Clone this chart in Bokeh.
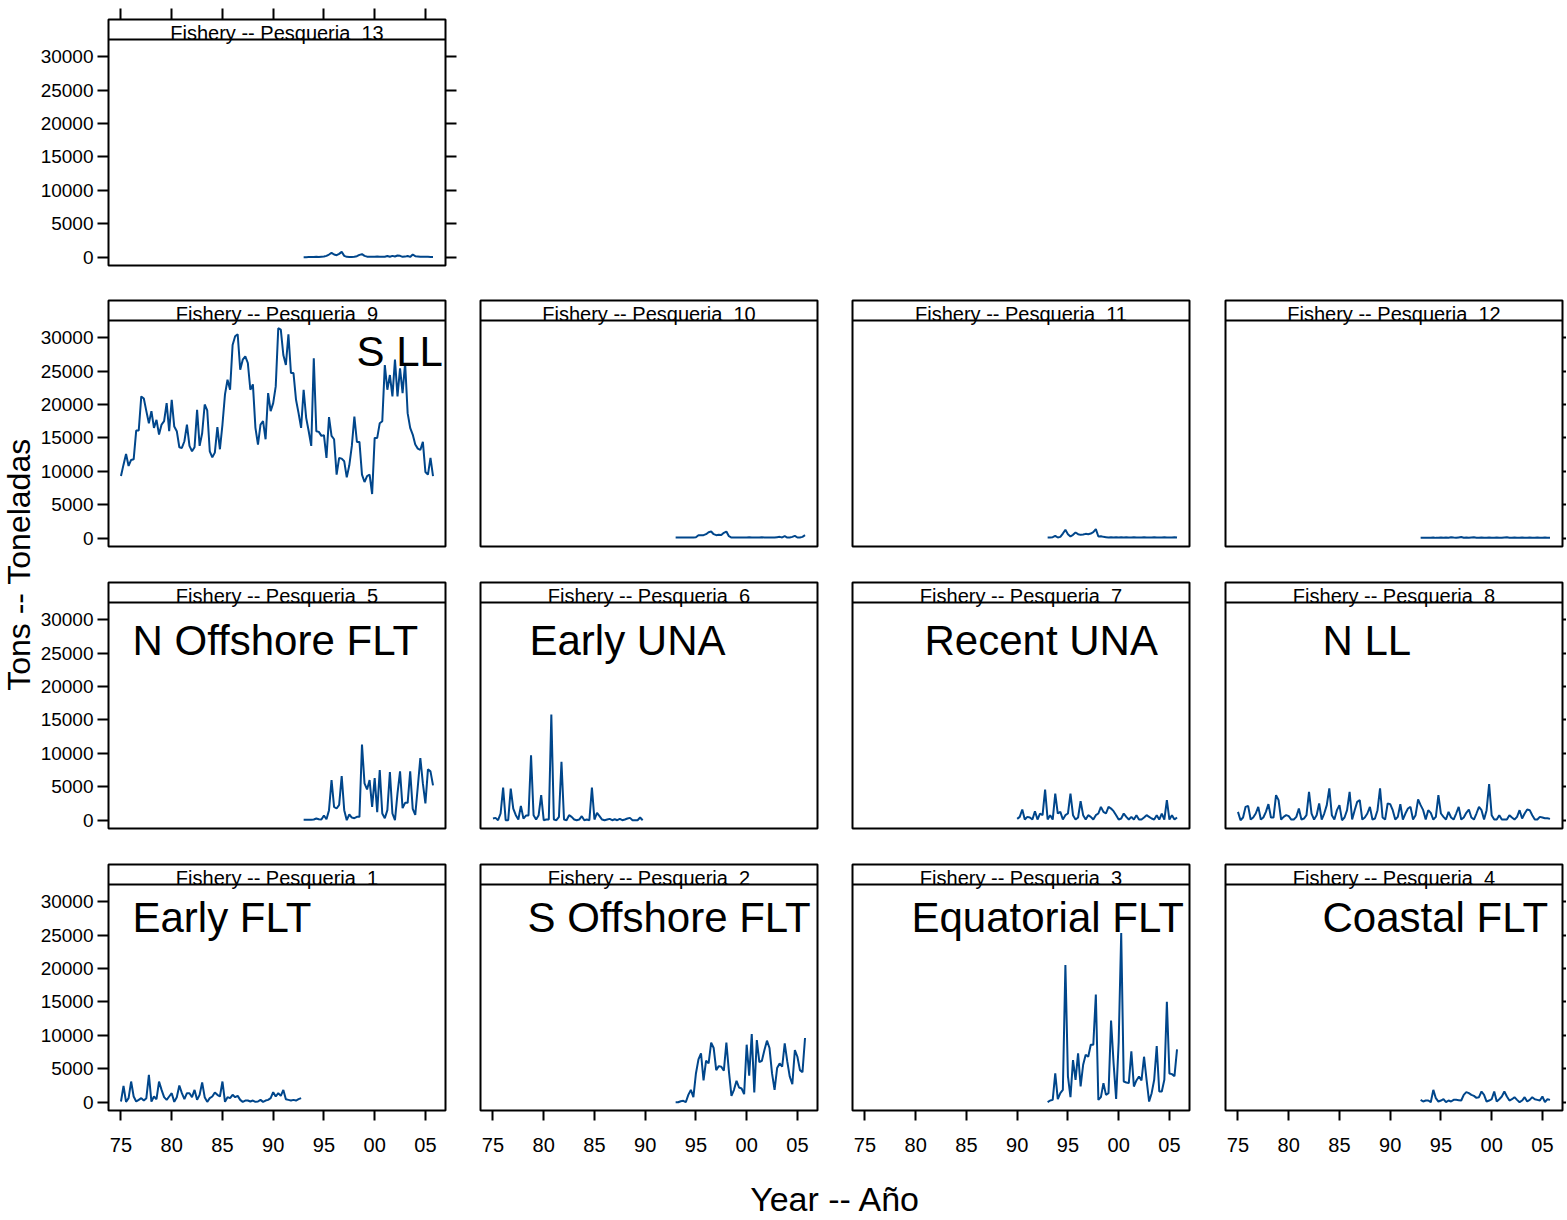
import math
from bokeh.plotting import figure
from bokeh.layouts import column, row
from bokeh.models import Range1d, FixedTicker, Span, Label, LinearAxis
from bokeh.embed import file_html
from bokeh.resources import INLINE

# ---------------- data ----------------
year_ticks = [1975, 1980, 1985, 1990, 1995, 2000, 2005]
year_labels = ["75", "80", "85", "90", "95", "00", "05"]
ton_ticks = [0, 5000, 10000, 15000, 20000, 25000, 30000]

x_title = "Year -- Año"
y_title = "Tons -- Toneladas"

# quarterly catches (tons); each series starts at the given year, one value per quarter
start_p1 = 1975.0
catch_p1 = [100, 2440, 50, 600, 3090, 850, 100, 350, 600, 250,
            600, 4090, 100, 850, 450, 3090, 1840, 750, 350, 850,
            1350, 50, 750, 2490, 1350, 450, 1350, 1350, 750, 1840,
            350, 1100, 2940, 750, 50, 600, 850, 1450, 1100, 850,
            3090, 50, 750, 600, 1100, 750, 950, 350, 50, 250,
            250, 100, 250, 50, 100, 350, 50, 250, 350, 600,
            1500, 850, 1350, 950, 1840, 450, 350, 250, 350, 250,
            450, 600]

start_p2 = 1993.0
catch_p2 = [0, 0, 150, 200, 0, 1100, 1850, 750, 4300, 6400,
            7300, 3250, 6200, 5800, 8900, 8100, 4800, 5400, 5300, 4700,
            8900, 4600, 950, 1850, 3200, 2200, 2050, 1200, 8600, 3950,
            10200, 1450, 9300, 6000, 6200, 7800, 9200, 8100, 4300, 1850,
            5100, 5800, 5300, 8800, 6100, 3800, 2700, 7800, 6800, 4800,
            4500, 9600]

start_p3 = 1993.0
catch_p3 = [0, 250, 350, 4300, 450, 1350, 1850, 20500, 3850, 750,
            6300, 3350, 7300, 2350, 5600, 7100, 6800, 8600, 8600, 16100,
            350, 750, 2850, 1100, 1350, 12200, 5800, 500, 9000, 25300,
            3100, 2950, 2850, 7600, 2350, 3250, 3850, 3250, 6800, 3350,
            100, 1350, 3350, 8400, 1600, 1600, 3350, 15000, 4300, 4200,
            3900, 7900]

start_p4 = 1993.0
catch_p4 = [350, 100, 250, 250, 0, 1840, 600, 100, 250, 450,
            0, 250, 100, 350, 350, 300, 250, 1100, 1500, 1350,
            1100, 950, 650, 750, 1600, 1100, 100, 250, 450, 1600,
            100, 450, 850, 1600, 850, 250, 450, 750, 350, 0,
            250, 750, 100, 350, 750, 450, 350, 250, 850, 0,
            450, 350]

start_p5 = 1993.0
catch_p5 = [50, 50, 50, 80, 100, 250, 150, 100, 700, 150,
            1500, 6000, 2000, 1750, 2300, 6600, 1500, 0, 850, 400,
            300, 500, 500, 11300, 5500, 4600, 6000, 2000, 6300, 1200,
            7500, 1000, 300, 1500, 7200, 1000, 0, 4000, 7300, 1800,
            2600, 2600, 7300, 1700, 800, 5000, 9300, 5500, 2500, 7600,
            7300, 5200]

start_p6 = 1975.0
catch_p6 = [250, 350, 0, 1000, 4880, 0, 0, 4730, 1740, 750,
            100, 2140, 250, 700, 700, 9720, 750, 100, 750, 3740,
            0, 100, 100, 15800, 100, 0, 500, 8720, 100, 0,
            750, 500, 100, 0, 100, 600, 0, 100, 0, 4880,
            100, 1100, 600, 100, 0, 100, 200, 0, 150, 0,
            200, 0, 100, 250, 350, 0, 0, 0, 400, 0]

start_p7 = 1990.0
catch_p7 = [200, 500, 1600, 100, 500, 400, 100, 1350, 100, 1000,
            750, 4580, 100, 750, 100, 3990, 1000, 1250, 100, 750,
            1000, 3990, 750, 100, 400, 2840, 750, 100, 750, 500,
            100, 750, 1000, 1990, 1250, 1000, 1990, 1740, 1350, 750,
            100, 250, 1000, 500, 100, 500, 100, 750, 100, 100,
            400, 750, 500, 250, 100, 750, 100, 1000, 100, 2990,
            100, 750, 100, 400]

start_p8 = 1975.0
catch_p8 = [1250, 0, 400, 2000, 2150, 100, 400, 1000, 2000, 100,
            400, 1250, 2400, 400, 400, 3750, 3000, 100, 500, 750,
            600, 100, 100, 500, 1750, 100, 250, 750, 4250, 1000,
            100, 750, 2500, 100, 1000, 2250, 4750, 750, 100, 1500,
            2250, 0, 400, 1500, 4250, 100, 1500, 2750, 3000, 100,
            400, 1000, 2000, 100, 250, 1500, 4750, 400, 100, 2500,
            2400, 1500, 100, 500, 2400, 100, 1000, 1750, 2000, 100,
            750, 3100, 2250, 1500, 100, 1500, 1100, 100, 500, 3750,
            1000, 500, 100, 1250, 400, 100, 1000, 2000, 100, 400,
            1100, 1600, 400, 100, 1000, 2000, 1500, 100, 1500, 5400,
            750, 100, 100, 750, 100, 100, 100, 750, 400, 100,
            500, 1500, 250, 1000, 1600, 1500, 750, 100, 100, 500,
            400, 300, 300, 200]

start_p9 = 1975.0
catch_p9 = [9300, 11000, 12600, 10800, 11700, 11800, 16100, 16100, 21200, 20900,
            19000, 17200, 19000, 16500, 17700, 15500, 17000, 17500, 20200, 16000,
            20700, 16700, 16000, 13600, 13500, 14500, 17000, 13800, 13000, 13600,
            19200, 13800, 15700, 20000, 19100, 13000, 12100, 12800, 16600, 13300,
            17000, 21500, 23700, 22200, 28900, 30200, 30500, 25200, 26700, 27200,
            26200, 22200, 23000, 16500, 14000, 17000, 17500, 14800, 21700, 19000,
            20200, 22700, 31400, 31200, 27400, 25900, 30500, 24700, 24700, 20700,
            18700, 16500, 22200, 18000, 16000, 13800, 26900, 16000, 15900, 15300,
            15400, 12000, 18100, 15300, 14800, 9500, 12000, 11900, 11500, 9100,
            10900, 13800, 18200, 14400, 14400, 9500, 8400, 9300, 9500, 6600,
            15000, 15000, 17200, 17500, 25900, 22200, 24400, 21200, 26700, 21200,
            25400, 21700, 26200, 18700, 16500, 15500, 14000, 13400, 13200, 14400,
            9900, 9500, 12000, 9300]

start_p10 = 1993.0
catch_p10 = [100, 100, 100, 100, 100, 100, 100, 100, 150, 450,
             450, 450, 600, 900, 1000, 600, 450, 500, 480, 800,
             1000, 300, 100, 120, 100, 100, 120, 100, 100, 150,
             100, 120, 100, 100, 150, 100, 100, 120, 100, 100,
             150, 200, 120, 300, 100, 120, 200, 350, 100, 120,
             200, 450]

start_p11 = 1993.0
catch_p11 = [100, 100, 150, 350, 100, 200, 700, 1250, 600, 250,
             500, 850, 600, 500, 550, 650, 600, 700, 900, 1350,
             250, 300, 200, 150, 100, 150, 100, 150, 100, 150,
             100, 150, 120, 100, 150, 100, 120, 100, 150, 100,
             120, 100, 150, 100, 120, 100, 150, 100, 120, 100,
             150, 120]

start_p12 = 1993.0
catch_p12 = [50, 60, 50, 80, 60, 100, 50, 80, 120, 60,
             100, 80, 150, 100, 60, 120, 180, 80, 100, 60,
             120, 150, 80, 60, 100, 80, 60, 120, 80, 60,
             100, 80, 60, 120, 150, 80, 60, 100, 80, 60,
             120, 80, 60, 100, 80, 60, 120, 80, 60, 100,
             80, 60]

start_p13 = 1993.0
catch_p13 = [0, 0, 20, 30, 20, 50, 40, 80, 100, 200,
             400, 650, 400, 300, 500, 800, 200, 50, 30, 40,
             60, 150, 350, 450, 200, 80, 60, 80, 50, 90,
             60, 50, 70, 180, 60, 200, 100, 250, 200, 50,
             90, 180, 40, 400, 150, 120, 60, 50, 70, 60,
             40, 40]

panel_names = {1: "Early FLT", 2: "S Offshore FLT", 3: "Equatorial FLT", 4: "Coastal FLT",
               5: "N Offshore FLT", 6: "Early UNA", 7: "Recent UNA", 8: "N LL", 9: "S LL",
               10: "", 11: "", 12: "", 13: ""}

# ---------------- styling / layout constants ----------------
LINE_COLOR = "#00468B"
FONT = "Liberation Sans"
X0, X1 = 1973.77, 2006.98
Y0, Y1 = -1241.0, 35548.0
FW, FH = 337, 246
STRIP_Y = 32560.0
PXX = FW / (X1 - X0)       # px per year
UPY = (Y1 - Y0) / FH       # tons per px

YT_W = 36                  # width of the strip that holds the y title
PAGE_H = 1218
COL_BL = [72, 5, 5, 5]
COL_BR = [30, 30, 31, 4]
ROW_BT = [19, 18, 18, 18]
ROW_BB = [17, 18, 18, 60]
XT_H = 48

# panel label anchor (left x in px from frame left, text middle in px from frame bottom)
label_pos = {1: (24, 193), 2: (47, 193), 3: (59, 193), 4: (97, 193),
             5: (24, 188), 6: (49, 188), 7: (72, 188), 8: (97, 188), 9: (248, 195)}


def yaxis(p, loc, labels, tick_out=11):
    ax = LinearAxis(ticker=FixedTicker(ticks=ton_ticks))
    ax.axis_line_color = None
    ax.major_tick_in = 0
    ax.major_tick_out = tick_out
    ax.minor_tick_in = 0
    ax.minor_tick_out = 0
    ax.major_tick_line_width = 2
    ax.major_tick_line_color = "black"
    if labels:
        ax.major_label_text_font_size = "19px"
        ax.major_label_text_font = FONT
        ax.major_label_text_color = "black"
        ax.major_label_standoff = 4
    else:
        ax.major_label_text_font_size = "1px"
        ax.major_label_text_color = None
        ax.major_label_standoff = 0
    p.add_layout(ax, loc)


def xaxis(p, loc, labels):
    ax = LinearAxis(ticker=FixedTicker(ticks=year_ticks))
    ax.axis_line_color = None
    ax.major_tick_in = 0
    ax.major_tick_out = 10 if labels else 11
    ax.minor_tick_in = 0
    ax.minor_tick_out = 0
    ax.major_tick_line_width = 2
    ax.major_tick_line_color = "black"
    if labels:
        ax.major_label_overrides = {t: l for t, l in zip(year_ticks, year_labels)}
        ax.major_label_text_font_size = "20px"
        ax.major_label_text_font = FONT
        ax.major_label_text_color = "black"
        ax.major_label_standoff = 17
    else:
        ax.major_label_text_font_size = "1px"
        ax.major_label_text_color = None
        ax.major_label_standoff = 0
    p.add_layout(ax, loc)


def panel(num, start, vals, col, rw):
    p = figure(frame_width=FW, frame_height=FH,
               x_range=Range1d(X0, X1), y_range=Range1d(Y0, Y1),
               x_axis_location=None, y_axis_location=None,
               toolbar_location=None, output_backend="svg", title=None,
               min_border_left=COL_BL[col], min_border_right=COL_BR[col],
               min_border_top=ROW_BT[rw], min_border_bottom=ROW_BB[rw],
               background_fill_color="white", border_fill_color="white")
    p.grid.visible = False
    p.outline_line_color = "black"
    p.outline_line_width = 2
    xs = [start + 0.25 * i for i in range(len(vals))]
    p.line(xs, vals, line_color=LINE_COLOR, line_width=2)
    p.add_layout(Span(location=STRIP_Y, dimension="width", line_color="black", line_width=2))
    p.add_layout(Label(x=(X0 + X1) / 2, y=STRIP_Y + 6.5 * UPY,
                       text="Fishery -- Pesqueria \u00a0%d" % num,
                       text_align="center", text_baseline="middle",
                       text_font=FONT, text_font_size="20px", text_color="black"))
    name = panel_names[num]
    if name:
        dx, dy = label_pos[num]
        p.add_layout(Label(x=X0 + dx / PXX, y=Y0 + dy * UPY, text=name,
                           text_align="left", text_baseline="middle",
                           text_font=FONT, text_font_size="42px", text_color="black"))
    return p


def blank_fig(w, h):
    f = figure(width=w, height=h, x_range=Range1d(0, w), y_range=Range1d(0, h),
               x_axis_location=None, y_axis_location=None,
               toolbar_location=None, output_backend="svg", title=None,
               min_border_left=0, min_border_right=0, min_border_top=0, min_border_bottom=0,
               background_fill_color="white", border_fill_color="white")
    f.grid.visible = False
    f.outline_line_color = None
    return f


series = {1: (start_p1, catch_p1), 2: (start_p2, catch_p2), 3: (start_p3, catch_p3),
          4: (start_p4, catch_p4), 5: (start_p5, catch_p5), 6: (start_p6, catch_p6),
          7: (start_p7, catch_p7), 8: (start_p8, catch_p8), 9: (start_p9, catch_p9),
          10: (start_p10, catch_p10), 11: (start_p11, catch_p11), 12: (start_p12, catch_p12),
          13: (start_p13, catch_p13)}

grid = [[13], [9, 10, 11, 12], [5, 6, 7, 8], [1, 2, 3, 4]]
figs = {}
for rw, nums in enumerate(grid):
    for col, num in enumerate(nums):
        s, v = series[num]
        p = panel(num, s, v, col, rw)
        if col == 0:
            yaxis(p, "left", True)
        if col == len(nums) - 1:
            yaxis(p, "right", False, tick_out=11 if col < 3 else 4)
        if rw == 0:
            xaxis(p, "above", False)
        if rw == 3:
            xaxis(p, "below", True)
        figs[(rw, col)] = p

# y-axis title in its own narrow strip on the left
right_w = 1566 - YT_W
ytf = blank_fig(YT_W, PAGE_H)
ytf.add_layout(Label(x=18, y=PAGE_H - 564, text=y_title, angle=math.pi / 2,
                     text_align="center", text_baseline="middle",
                     text_font=FONT, text_font_size="32px", text_color="black"))

# x-axis title in its own strip at the bottom
xtf = blank_fig(right_w, XT_H)
xtf.add_layout(Label(x=835 - YT_W, y=PAGE_H - 1198, text=x_title,
                     text_align="center", text_baseline="middle",
                     text_font=FONT, text_font_size="34px", text_color="black"))

rows = [row(*[figs[(rw, c)] for c in range(len(nums))]) for rw, nums in enumerate(grid)]
layout = row(ytf, column(*rows, xtf))

open("out.html", "w").write(file_html(layout, INLINE))
